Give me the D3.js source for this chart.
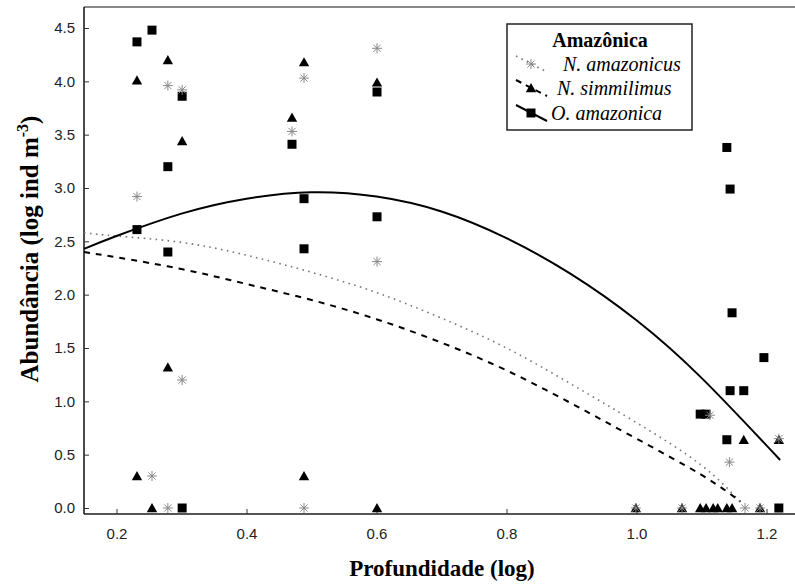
<!DOCTYPE html>
<html lang="pt">
<head>
<meta charset="UTF-8">
<title>Amazônica</title>
<script src="https://cdn.jsdelivr.net/npm/d3@7/dist/d3.min.js"></script>
<style>
  body { margin: 0; background: #fff; }
  .tick text { font-family: "Liberation Sans", Arial, sans-serif; font-size: 15px; fill: #222; }
  .eixo { font-family: "Liberation Serif", "Times New Roman", serif; font-weight: bold; fill: #000; }
</style>
</head>
<body>
<div id="grafica"></div>
<script>
// ticks
xTicks = [0.2, 0.4, 0.6, 0.8, 1.0, 1.2]
yTicks = [0, 0.5, 1.0, 1.5, 2.0, 2.5, 3.0, 3.5, 4.0, 4.5]

// pontos  [profundidade log, abundancia log]
amazonicus = [
  [0.2315, 2.92], [0.279, 3.96], [0.301, 3.92], [0.301, 1.20], [0.2546, 0.30], [0.279, 0],
  [0.470, 3.53], [0.4885, 4.03], [0.4885, 0], [0.6008, 4.31], [0.6008, 2.31],
  [0.999, 0], [1.07, 0], [1.113, 0.87], [1.143, 0.43], [1.167, 0], [1.19, 0], [1.219, 0.65]
]
simmilimus = [
  [0.2315, 4.01], [0.279, 4.20], [0.301, 3.44], [0.279, 1.32], [0.2315, 0.30], [0.2546, 0],
  [0.470, 3.66], [0.4885, 4.18], [0.4885, 0.30], [0.6008, 3.99], [0.6008, 0],
  [0.999, 0], [1.07, 0], [1.098, 0], [1.107, 0], [1.118, 0], [1.125, 0], [1.139, 0], [1.147, 0],
  [1.165, 0.64], [1.19, 0], [1.219, 0.64]
]
amazonica = [
  [0.2315, 4.37], [0.2546, 4.48], [0.301, 3.86], [0.279, 3.20], [0.2315, 2.61], [0.279, 2.40], [0.301, 0],
  [0.470, 3.41], [0.4885, 2.90], [0.4885, 2.43], [0.6008, 3.90], [0.6008, 2.73],
  [1.139, 3.38], [1.144, 2.99], [1.147, 1.83], [1.196, 1.41], [1.144, 1.10], [1.165, 1.10],
  [1.098, 0.88], [1.107, 0.88], [1.139, 0.64], [1.219, 0]
]

// curvas ajustadas
amazonicusFit = [
  [0.15, 2.58], [0.2, 2.55], [0.3, 2.49], [0.4, 2.37], [0.5, 2.21], [0.6, 2.02], [0.7, 1.78],
  [0.8, 1.50], [0.9, 1.16], [1.0, 0.80], [1.1, 0.40], [1.162, 0.04]
]
simmilimusFit = [
  [0.15, 2.40], [0.2, 2.35], [0.3, 2.24], [0.4, 2.10], [0.5, 1.95], [0.6, 1.77], [0.7, 1.55],
  [0.8, 1.29], [0.9, 0.98], [1.0, 0.65], [1.1, 0.31], [1.16, 0.06]
]
amazonicaFit = [
  [0.15, 2.43], [0.2, 2.55], [0.3, 2.76], [0.4, 2.90], [0.5, 2.96], [0.6, 2.92], [0.7, 2.78],
  [0.8, 2.53], [0.9, 2.19], [1.0, 1.76], [1.1, 1.22], [1.221, 0.45]
]

ancho = 795
alto = 585

svg = d3.select('#grafica')
        .append('svg')
        .attr('width', ancho)
        .attr('height', alto)

x = d3.scaleLinear().domain([0.15, 1.25]).range([84, 799])
y = d3.scaleLinear().domain([0, 4.5]).range([508, 28])

// marco
svg.append('line')
   .attr('x1', 84).attr('x2', ancho).attr('y1', 7).attr('y2', 7)
   .attr('stroke', '#888').attr('stroke-width', 2)

ejeX = svg.append('g')
   .attr('transform', 'translate(0,514)')
   .call(d3.axisBottom(x).tickValues(xTicks).tickSizeInner(-5).tickSizeOuter(0).tickPadding(14)
          .tickFormat(d3.format('.1f')))
ejeX.select('.domain').attr('stroke', '#555').attr('stroke-width', 2).attr('d', 'M84,0H' + ancho)
ejeX.selectAll('.tick line').attr('stroke', '#333')

ejeY = svg.append('g')
   .attr('transform', 'translate(84,0)')
   .call(d3.axisLeft(y).tickValues(yTicks).tickSizeInner(-5).tickSizeOuter(0).tickPadding(9)
          .tickFormat(d3.format('.1f')))
ejeY.select('.domain').attr('stroke', '#111').attr('stroke-width', 1.5).attr('d', 'M0,7V514')
ejeY.selectAll('.tick line').attr('stroke', '#333')

// curvas
linea = d3.line().x(d => x(d[0])).y(d => y(d[1])).curve(d3.curveNatural)

svg.append('path').datum(amazonicusFit).attr('d', linea)
   .attr('fill', 'none').attr('stroke', '#777').attr('stroke-width', 1.6)
   .attr('stroke-dasharray', '1.6,4.4')
svg.append('path').datum(simmilimusFit).attr('d', linea)
   .attr('fill', 'none').attr('stroke', '#000').attr('stroke-width', 2)
   .attr('stroke-dasharray', '6,6')
svg.append('path').datum(amazonicaFit).attr('d', linea)
   .attr('fill', 'none').attr('stroke', '#000').attr('stroke-width', 2)

// simbolos
asterisco = 'M-5,0H5M0,-5V5M-3.6,-3.6L3.6,3.6M-3.6,3.6L3.6,-3.6'
triangulo = 'M0,-5L5.2,4.2L-5.2,4.2Z'
cuadrado = 'M-4.5,-4.5H4.5V4.5H-4.5Z'

svg.selectAll('.sim')
   .data(simmilimus).enter()
   .append('path').attr('class', 'sim')
   .attr('transform', d => 'translate(' + x(d[0]) + ',' + y(d[1]) + ')')
   .attr('d', triangulo).attr('fill', '#000')

svg.selectAll('.oam')
   .data(amazonica).enter()
   .append('path').attr('class', 'oam')
   .attr('transform', d => 'translate(' + x(d[0]) + ',' + y(d[1]) + ')')
   .attr('d', cuadrado).attr('fill', '#000')

svg.selectAll('.nam')
   .data(amazonicus).enter()
   .append('path').attr('class', 'nam')
   .attr('transform', d => 'translate(' + x(d[0]) + ',' + y(d[1]) + ')')
   .attr('d', asterisco).attr('fill', 'none').attr('stroke', '#888').attr('stroke-width', 1)

// titulos
svg.append('text').attr('class', 'eixo')
   .attr('x', 442).attr('y', 576).attr('text-anchor', 'middle')
   .style('font-size', '23px')
   .text('Profundidade (log)')

tituloY = svg.append('text').attr('class', 'eixo')
   .attr('transform', 'translate(38,249) rotate(-90)')
   .attr('text-anchor', 'middle')
   .style('font-size', '25px')
tituloY.append('tspan').text('Abundância (log ind m')
tituloY.append('tspan').attr('dy', -10).style('font-size', '16px').text('-3')
tituloY.append('tspan').attr('dy', 10).text(')')

// leyenda
leyenda = svg.append('g')
leyenda.append('rect')
   .attr('x', 507).attr('y', 24).attr('width', 185).attr('height', 106)
   .attr('fill', '#fff').attr('stroke', '#222').attr('stroke-width', 1.5)
leyenda.append('text').attr('class', 'eixo')
   .attr('x', 600).attr('y', 47).attr('text-anchor', 'middle')
   .style('font-size', '20px').text('Amazônica')

items = [
  { nome: 'N. amazonicus', y: 64, tx: 563, dash: '1.6,4.4', cor: '#777', w: 1.6, sym: asterisco },
  { nome: 'N. simmilimus', y: 88, tx: 557, dash: '6,5', cor: '#000', w: 2, sym: triangulo },
  { nome: 'O. amazonica', y: 113, tx: 551, dash: null, cor: '#000', w: 2, sym: cuadrado }
]
items.forEach(function(it) {
  leyenda.append('line')
     .attr('x1', 516).attr('y1', it.y - 8).attr('x2', 547).attr('y2', it.y + 8)
     .attr('stroke', it.cor).attr('stroke-width', it.w)
     .attr('stroke-dasharray', it.dash)
  p = leyenda.append('path')
     .attr('transform', 'translate(531,' + it.y + ')')
     .attr('d', it.sym)
  if (it.sym === asterisco) p.attr('fill', 'none').attr('stroke', '#888')
  else p.attr('fill', '#000')
  leyenda.append('text')
     .attr('x', it.tx).attr('y', it.y + 7)
     .style('font-family', '"Liberation Serif", "Times New Roman", serif')
     .style('font-style', 'italic').style('font-size', '20px')
     .text(it.nome)
})
</script>
</body>
</html>
